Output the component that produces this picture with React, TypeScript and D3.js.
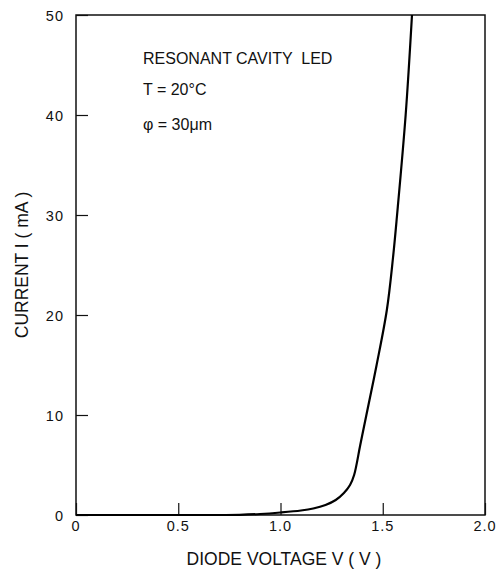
import React, { useEffect, useRef } from "react"
import * as d3 from "d3"

const W = 500
const H = 570
const M = { left: 76, right: 15, top: 15, bottom: 55 }

// diode I-V curve
const voltage = [0, 0.5, 0.8, 0.9, 1.0, 1.1, 1.16, 1.22, 1.27, 1.31, 1.34, 1.36, 1.39, 1.42, 1.47, 1.52, 1.55, 1.57, 1.612, 1.643]
const current = [0, 0, 0.02, 0.1, 0.25, 0.45, 0.65, 1.0, 1.5, 2.2, 3.0, 4.0, 7.0, 10, 15, 20.5, 25.7, 30, 40, 50]

const xTicks = [0, 0.5, 1.0, 1.5, 2.0]
const yTicks = [0, 10, 20, 30, 40, 50]
const notes = ["RESONANT CAVITY  LED", "T = 20°C", "φ = 30μm"]
const noteBaselines = [64, 95, 130]

const FONT = "'Liberation Sans', Arial, sans-serif"

export default function App() {
  const svgRef = useRef<SVGSVGElement | null>(null)

  useEffect(() => {
    const svgEl = svgRef.current
    if (!svgEl) return
    const svg = d3.select(svgEl)
    svg.selectAll("*").remove()

    const x = d3.scaleLinear().domain([0, 2]).range([M.left, W - M.right])
    const y = d3.scaleLinear().domain([0, 50]).range([H - M.bottom, M.top])

    // frame
    svg
      .append("rect")
      .attr("x", x(0))
      .attr("y", y(50))
      .attr("width", x(2) - x(0))
      .attr("height", y(0) - y(50))
      .attr("fill", "none")
      .attr("stroke", "#111")
      .attr("stroke-width", 1.5)

    // inward ticks
    const xAxis = d3.axisTop(x).tickValues(xTicks).tickSize(12).tickFormat(() => "")
    const xg = svg.append("g").attr("transform", `translate(0,${y(0)})`).call(xAxis)
    xg.select(".domain").remove()
    xg.selectAll("line").attr("stroke", "#111").attr("stroke-width", 1.2)

    const yAxis = d3.axisRight(y).tickValues(yTicks).tickSize(12).tickFormat(() => "")
    const yg = svg.append("g").attr("transform", `translate(${x(0)},0)`).call(yAxis)
    yg.select(".domain").remove()
    yg.selectAll("line").attr("stroke", "#111").attr("stroke-width", 1.2)

    // tick labels
    svg
      .append("g")
      .selectAll("text")
      .data(xTicks)
      .join("text")
      .attr("x", d => x(d))
      .attr("y", y(0) + 16)
      .attr("text-anchor", "middle")
      .attr("font-family", FONT)
      .attr("font-size", 14.5)
      .attr("letter-spacing", 1)
      .attr("fill", "#111")
      .text(d => (d === 0 ? "0" : d.toFixed(1)))

    svg
      .append("g")
      .selectAll("text")
      .data(yTicks)
      .join("text")
      .attr("x", x(0) - 12)
      .attr("y", d => y(d) + 6)
      .attr("text-anchor", "end")
      .attr("font-family", FONT)
      .attr("font-size", 14.5)
      .attr("letter-spacing", 1)
      .attr("fill", "#111")
      .text(d => String(d))

    // axis titles
    svg
      .append("text")
      .attr("x", 284)
      .attr("y", 565)
      .attr("text-anchor", "middle")
      .attr("font-family", FONT)
      .attr("font-size", 17.5)
      .attr("fill", "#111")
      .text("DIODE VOLTAGE V ( V )")

    svg
      .append("text")
      .attr("transform", `translate(28,265) rotate(-90)`)
      .attr("text-anchor", "middle")
      .attr("font-family", FONT)
      .attr("font-size", 17.5)
      .attr("fill", "#111")
      .text("CURRENT I ( mA )")

    // annotations
    svg
      .append("g")
      .selectAll("text")
      .data(notes)
      .join("text")
      .attr("x", 143)
      .attr("y", (_, i) => noteBaselines[i])
      .attr("font-family", FONT)
      .attr("font-size", 16)
      .attr("fill", "#111")
      .style("white-space", "pre")
      .text(d => d)

    // curve
    const pts = voltage.map((v, i) => [v, current[i]] as [number, number])
    const line = d3
      .line<[number, number]>()
      .x(d => x(d[0]))
      .y(d => y(d[1]))
      .curve(d3.curveCatmullRom.alpha(0.5))
    svg
      .append("path")
      .datum(pts)
      .attr("d", line)
      .attr("fill", "none")
      .attr("stroke", "#000")
      .attr("stroke-width", 2.2)
  }, [])

  return (
    <svg
      ref={svgRef}
      width={W}
      height={H}
      style={{ position: "absolute", left: 0, top: 0, background: "#fff" }}
    />
  )
}
